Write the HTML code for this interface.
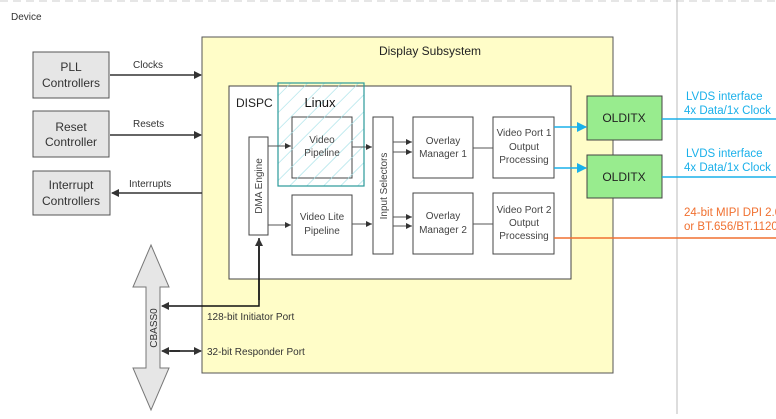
<!DOCTYPE html>
<html><head><style>body{margin:0;background:#fff}svg text{font-family:"Liberation Sans",sans-serif}</style></head><body>
<svg width="776" height="414" viewBox="0 0 776 414" xmlns="http://www.w3.org/2000/svg">
<defs>
<marker id="a" markerWidth="8" markerHeight="8" refX="7" refY="4" orient="auto" markerUnits="userSpaceOnUse"><path d="M0,0 L8,4 L0,8z" fill="#333"/></marker>
<marker id="ab" markerWidth="10" markerHeight="10" refX="9" refY="5" orient="auto" markerUnits="userSpaceOnUse"><path d="M0,0 L10,5 L0,10z" fill="#1ab0ea"/></marker>
<marker id="as" markerWidth="6" markerHeight="6" refX="6" refY="3" orient="auto" markerUnits="userSpaceOnUse"><path d="M0,0 L6,3 L0,6z" fill="#333"/></marker>
<pattern id="h" width="12" height="12" patternUnits="userSpaceOnUse" patternTransform="rotate(45)"><line x1="0" y1="0" x2="0" y2="12" stroke="#9edfe6" stroke-width="1.2"/></pattern>
</defs>
<line x1="0" y1="1" x2="776" y2="1" stroke="#ccc" stroke-dasharray="8,5"/>
<line x1="677" y1="0" x2="677" y2="414" stroke="#bbb"/>
<text x="11" y="20" font-size="10" fill="#333">Device</text>
<rect x="202" y="37" width="411" height="336" fill="#fffdc8" stroke="#555"/>
<text x="430" y="55" font-size="12" fill="#222" text-anchor="middle">Display Subsystem</text>
<rect x="229" y="86" width="342" height="193" fill="#fff" stroke="#444"/>
<text x="236" y="107" font-size="12" fill="#222">DISPC</text>
<g font-size="12" fill="#333" text-anchor="middle">
<rect x="33" y="52" width="76" height="46" fill="#e6e6e6" stroke="#555"/><text x="71" y="71">PLL</text><text x="71" y="87">Controllers</text>
<rect x="33" y="111" width="76" height="46" fill="#e6e6e6" stroke="#555"/><text x="71" y="131">Reset</text><text x="71" y="146">Controller</text>
<rect x="33" y="171" width="77" height="44" fill="#e6e6e6" stroke="#555"/><text x="71" y="189">Interrupt</text><text x="71" y="205">Controllers</text>
</g>
<g stroke="#333" stroke-width="1.5">
<line x1="110" y1="75" x2="201" y2="75" marker-end="url(#a)"/>
<line x1="110" y1="135" x2="201" y2="135" marker-end="url(#a)"/>
<line x1="202" y1="193" x2="112" y2="193" marker-end="url(#a)"/>
</g>
<g font-size="10" fill="#333"><text x="133" y="68">Clocks</text><text x="133" y="127">Resets</text><text x="129" y="187">Interrupts</text></g>
<g fill="#fff" stroke="#444">
<rect x="249" y="137" width="19" height="98"/>
<rect x="292" y="117" width="60" height="61"/>
<rect x="292" y="195" width="60" height="60"/>
<rect x="373" y="117" width="20" height="137"/>
<rect x="413" y="117" width="60" height="61"/>
<rect x="413" y="193" width="60" height="61"/>
<rect x="493" y="117" width="61" height="61"/>
<rect x="493" y="193" width="61" height="61"/>
</g>
<rect x="278" y="83" width="86" height="103" fill="url(#h)" stroke="#2a9a9a" stroke-width="1.2"/>
<text x="320" y="107" font-size="13" fill="#111" text-anchor="middle">Linux</text>
<g font-size="10" fill="#444" text-anchor="middle">
<text transform="translate(262,186) rotate(-90)">DMA Engine</text>
<text transform="translate(387,186) rotate(-90)">Input Selectors</text>
<text x="322" y="143">Video</text><text x="322" y="156">Pipeline</text>
<text x="322" y="220">Video Lite</text><text x="322" y="234">Pipeline</text>
<text x="443" y="144">Overlay</text><text x="443" y="157">Manager 1</text>
<text x="443" y="219">Overlay</text><text x="443" y="233">Manager 2</text>
<text x="524" y="136">Video Port 1</text><text x="524" y="150">Output</text><text x="524" y="163">Processing</text>
<text x="524" y="213">Video Port 2</text><text x="524" y="226">Output</text><text x="524" y="239">Processing</text>
</g>
<g stroke="#555" stroke-width="1">
<line x1="268" y1="146" x2="291" y2="146" marker-end="url(#as)"/>
<line x1="352" y1="147" x2="372" y2="147" marker-end="url(#as)"/>
<line x1="268" y1="225" x2="291" y2="225" marker-end="url(#as)"/>
<line x1="352" y1="224" x2="372" y2="224" marker-end="url(#as)"/>
<line x1="393" y1="142" x2="412" y2="142" marker-end="url(#as)"/>
<line x1="393" y1="152" x2="412" y2="152" marker-end="url(#as)"/>
<line x1="393" y1="217" x2="412" y2="217" marker-end="url(#as)"/>
<line x1="393" y1="226" x2="412" y2="226" marker-end="url(#as)"/>
<line x1="473" y1="148" x2="493" y2="148"/>
<line x1="473" y1="224" x2="493" y2="224"/>
</g>
<rect x="587" y="96" width="75" height="44" fill="#98ec8e" stroke="#444"/>
<rect x="587" y="155" width="75" height="43" fill="#98ec8e" stroke="#444"/>
<g font-size="12" fill="#222" text-anchor="middle"><text x="624" y="122">OLDITX</text><text x="624" y="181">OLDITX</text></g>
<g stroke="#1ab0ea" stroke-width="1.5" fill="none">
<line x1="554" y1="127" x2="586" y2="127" marker-end="url(#ab)"/>
<line x1="554" y1="168" x2="586" y2="168" marker-end="url(#ab)"/>
<line x1="662" y1="119" x2="776" y2="119"/>
<line x1="662" y1="177" x2="776" y2="177"/>
</g>
<line x1="554" y1="238" x2="776" y2="238" stroke="#f07030" stroke-width="1.5"/>
<g font-size="11.5" fill="#1ab0ea"><text x="686" y="100">LVDS interface</text><text x="684" y="114">4x Data/1x Clock</text>
<text x="686" y="157">LVDS interface</text><text x="684" y="171">4x Data/1x Clock</text></g>
<g font-size="11.5" fill="#f07030"><text x="684" y="216">24-bit MIPI DPI 2.0</text><text x="684" y="230">or BT.656/BT.1120</text></g>
<path d="M151,245 L169,287 L160,287 L160,368 L169,368 L151,410 L133,368 L146,368 L146,287 L133,287 Z" fill="#e6e6e6" stroke="#777"/>
<text transform="translate(157,328) rotate(-90)" font-size="10" fill="#333" text-anchor="middle">CBASS0</text>
<g stroke="#111" stroke-width="1.5" fill="none">
<polyline points="259,238 259,306 162,306" marker-end="url(#a)"/>
<line x1="259" y1="300" x2="259" y2="239" marker-end="url(#a)"/>
<line x1="180" y1="351" x2="162" y2="351" marker-end="url(#a)"/>
<line x1="170" y1="351" x2="201" y2="351" marker-end="url(#a)"/>
</g>
<g font-size="10" fill="#333"><text x="207" y="320">128-bit Initiator Port</text><text x="207" y="355">32-bit Responder Port</text></g>
</svg>
</body></html>
